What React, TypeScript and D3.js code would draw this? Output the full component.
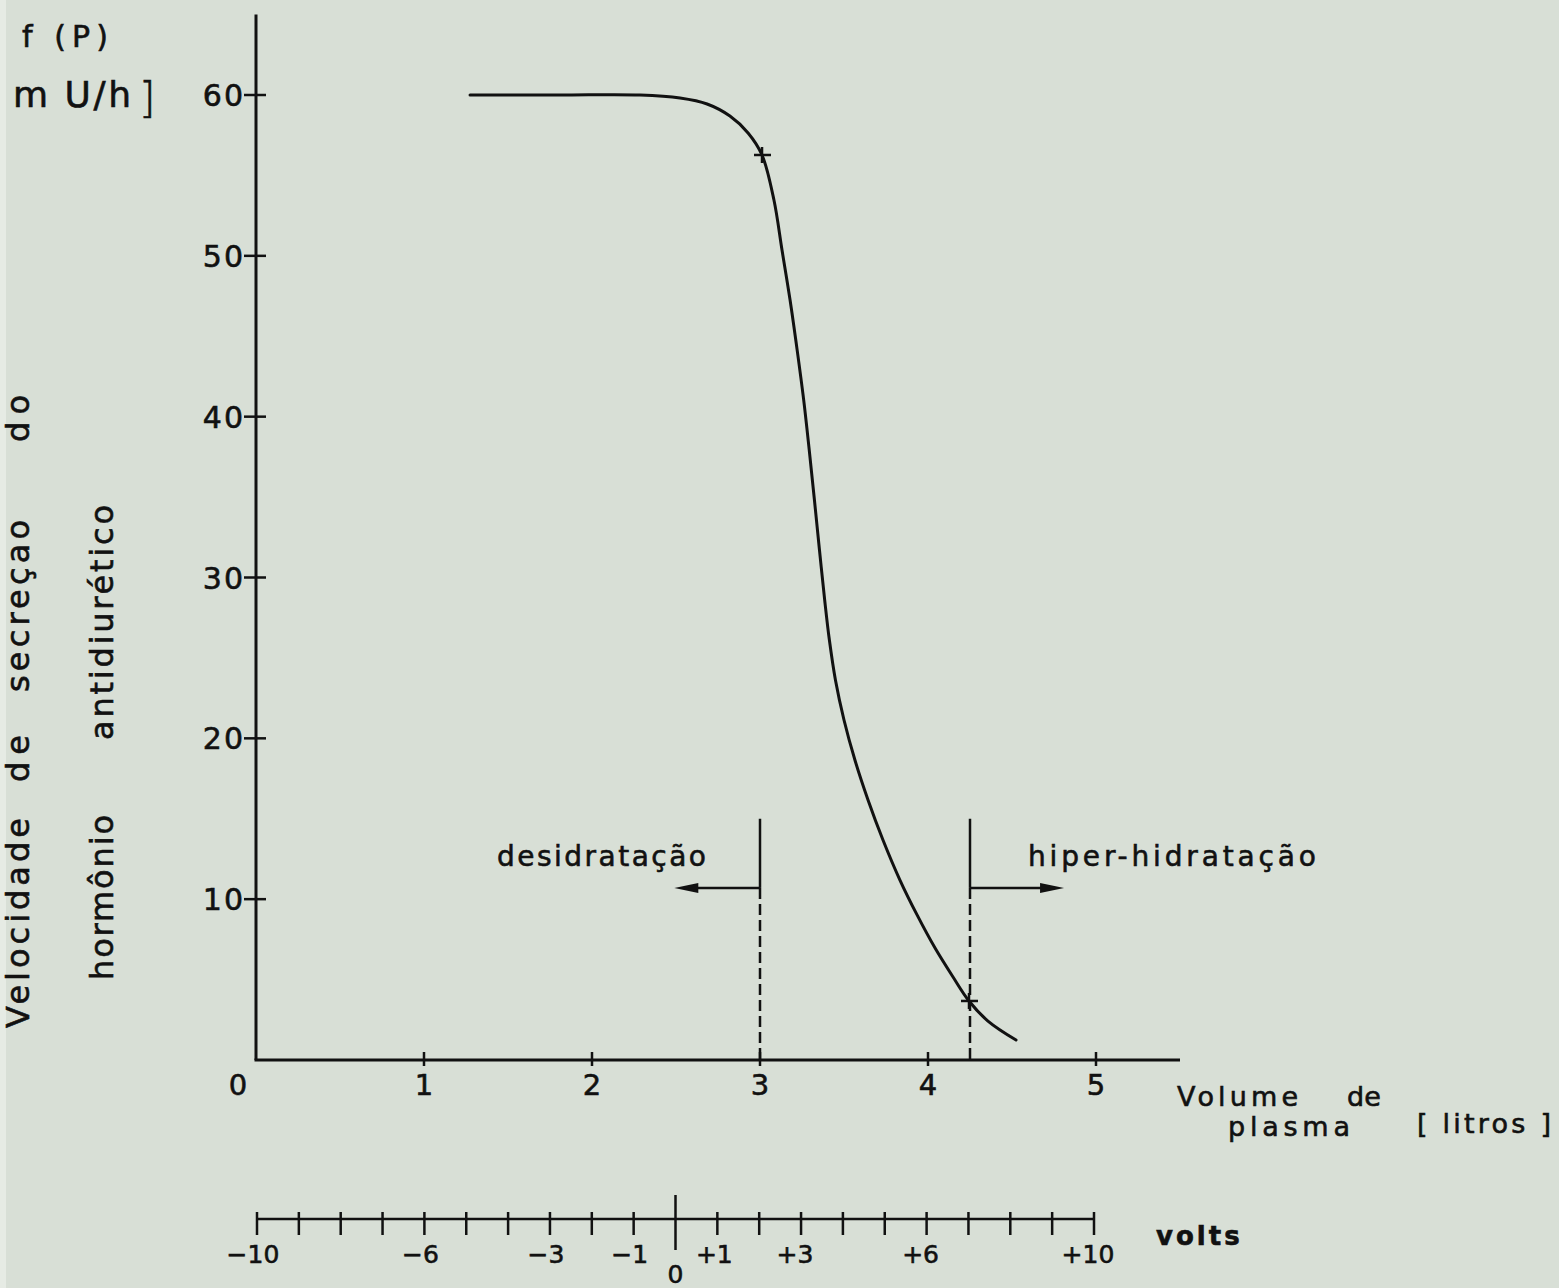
import React from "react";
import * as d3 from "d3";

// ---- data ----
const volumeTicks = [0, 1, 2, 3, 4, 5];
const secretionTicks = [10, 20, 30, 40, 50, 60];
const curveVolume = [1.274, 1.81, 2.286, 2.524, 2.685, 2.821, 2.929, 3.012, 3.083, 3.131, 3.179, 3.221, 3.26, 3.293, 3.324, 3.354, 3.385, 3.413, 3.449, 3.5, 3.565, 3.643, 3.732, 3.833, 3.935, 4.042, 4.149, 4.244, 4.357, 4.524];
const curveSecretion = [60, 60, 60, 59.81, 59.44, 58.69, 57.64, 56.27, 53.47, 50.36, 47.25, 44.15, 41.04, 37.93, 34.82, 31.71, 28.6, 26.11, 23.63, 21.14, 18.65, 16.17, 13.68, 11.19, 9.02, 6.96, 5.16, 3.67, 2.42, 1.24];
const crossVolume = [3.012, 4.244];
const crossSecretion = [56.27, 3.67];
const thresholdVolume = [3, 4.25];
const thresholdTop = 15;
const arrowLevel = 10.7;
const arrowEnd = [2.49, 4.81];
const thresholdLabels = ["desidratação", "hiper-hidratação"];
const voltTicks = [-10, -9, -8, -7, -6, -5, -4, -3, -2, -1, 0, 1, 2, 3, 4, 5, 6, 7, 8, 9, 10];
const voltLabels = [-10, -6, -3, -1, 1, 3, 6, 10];
const voltDomain = [-10, 10];
const volumeMax = 5.5;
const secretionMax = 65;

const FONT = "'DejaVu Sans', sans-serif";
const INK = "#111";
const TS = { fontFamily: FONT, fill: INK, stroke: INK, strokeWidth: 0.6 } as const;

export default function App() {
  const W = 1559, H = 1288;
  const x = d3.scaleLinear().domain([0, 5]).range([256, 1096]);
  const y = d3.scaleLinear().domain([0, 60]).range([1060, 95]);
  const v = d3.scaleLinear().domain(voltDomain).range([x(0) + 1, x(5) - 2]);
  const voltY = 1219;

  const pts: [number, number][] = curveVolume.map((c, i) => [c, curveSecretion[i]]);
  const line = d3.line<[number, number]>().x(d => x(d[0])).y(d => y(d[1])).curve(d3.curveCatmullRom.alpha(0.5));

  const fmtVolt = (n: number) => (n < 0 ? "\u2212" + Math.abs(n) : "+" + n);

  return (
    <svg width={W} height={H} style={{ position: "absolute", left: 0, top: 0, background: "#d8dfd6" }}>
      <rect x={0} y={0} width={W} height={H} fill="#d8dfd6" />
      <rect x={0} y={0} width={6} height={H} fill="#e6ebe4" />

      {/* y axis */}
      <line x1={x(0)} x2={x(0)} y1={y(0)} y2={y(secretionMax)} stroke={INK} strokeWidth={3} />
      {secretionTicks.map(t => (
        <g key={"yt" + t}>
          <line x1={x(0) - 12} x2={x(0) + 10} y1={y(t)} y2={y(t)} stroke={INK} strokeWidth={2.5} />
          <text {...TS} x={x(0) - 11} y={y(t) + 11} textAnchor="end" fontSize={30} letterSpacing={2}>{t}</text>
        </g>
      ))}

      {/* x axis */}
      <line x1={x(0) - 1.5} x2={x(volumeMax)} y1={y(0)} y2={y(0)} stroke={INK} strokeWidth={3} />
      {volumeTicks.filter(t => t > 0).map(t => (
        <line key={"xt" + t} x1={x(t)} x2={x(t)} y1={y(0) - 8} y2={y(0) + 6} stroke={INK} strokeWidth={2.5} />
      ))}
      {volumeTicks.map(t => (
        <text {...TS} key={"xl" + t} x={x(t) + (t === 0 ? -18 : 0)} y={y(0) + 35} textAnchor="middle" fontSize={29}>{t}</text>
      ))}

      {/* curve */}
      <path d={line(pts) || ""} fill="none" stroke={INK} strokeWidth={3} strokeLinecap="round" />
      {crossVolume.map((c, i) => (
        <g key={"cr" + i}>
          <line x1={x(c) - 8} x2={x(c) + 9} y1={y(crossSecretion[i])} y2={y(crossSecretion[i])} stroke={INK} strokeWidth={2.5} />
          <line x1={x(c)} x2={x(c)} y1={y(crossSecretion[i]) - 8} y2={y(crossSecretion[i]) + 8} stroke={INK} strokeWidth={2.5} />
        </g>
      ))}

      {/* thresholds */}
      {thresholdVolume.map((tv, i) => {
        const xx = x(tv);
        const xe = x(arrowEnd[i]);
        const ya = y(arrowLevel);
        const dir = xe < xx ? -1 : 1;
        const head = `M${xe},${ya} L${xe - dir * 24},${ya - 5} L${xe - dir * 24},${ya + 5} Z`;
        return (
          <g key={"th" + i}>
            <line x1={xx} x2={xx} y1={y(thresholdTop)} y2={ya} stroke={INK} strokeWidth={2.5} />
            <line x1={xx} x2={xx} y1={ya} y2={y(0)} stroke={INK} strokeWidth={2.5} strokeDasharray="11 5" />
            <line x1={xx} x2={xe - dir * 10} y1={ya} y2={ya} stroke={INK} strokeWidth={2.5} />
            <path d={head} fill={INK} />
          </g>
        );
      })}
      <text {...TS} x={497} y={866} fontSize={28} textLength={209} lengthAdjust="spacing">{thresholdLabels[0]}</text>
      <text {...TS} x={1028} y={866} fontSize={28} textLength={288} lengthAdjust="spacing">{thresholdLabels[1]}</text>

      {/* x axis title */}
      <text {...TS} x={1177} y={1106} fontSize={27} textLength={121} lengthAdjust="spacing">Volume</text>
      <text {...TS} x={1347} y={1106} fontSize={27}>de</text>
      <text {...TS} x={1228} y={1136} fontSize={27} textLength={122} lengthAdjust="spacing">plasma</text>
      <text {...TS} x={1417} y={1133} fontSize={27} textLength={134} lengthAdjust="spacing">[ litros ]</text>

      {/* volts axis */}
      <line x1={v(voltDomain[0])} x2={v(voltDomain[1])} y1={voltY} y2={voltY} stroke={INK} strokeWidth={2.5} />
      {voltTicks.map(t => (
        <line key={"vt" + t} x1={v(t)} x2={v(t)} y1={t === 0 ? voltY - 24 : voltY - 7} y2={t === 0 ? voltY + 31 : voltY + 16} stroke={INK} strokeWidth={2.5} />
      ))}
      {voltLabels.map(t => (
        <text {...TS} key={"vl" + t} x={v(t) + (t === 1 ? -3 : t < 0 ? -4 : -6)} y={voltY + 44} textAnchor="middle" fontSize={25}>{fmtVolt(t)}</text>
      ))}
      <text {...TS} x={v(0)} y={voltY + 64} textAnchor="middle" fontSize={25}>0</text>
      <text {...TS} x={1156} y={1245} fontSize={26} fontWeight="bold" letterSpacing={3}>volts</text>

      {/* top-left unit */}
      <text {...TS} x={22} y={47} fontSize={30} textLength={86} lengthAdjust="spacing">f (P)</text>
      <text {...TS} x={13} y={107} fontSize={36} textLength={118} lengthAdjust="spacing">m U/h</text>
      <text {...TS} x={139} y={113} fontSize={42} fontWeight="300">]</text>

      {/* rotated y title */}
      {[
        { w: "Velocidade", b: 1028, len: 210, bx: 29 },
        { w: "de", b: 782, len: 47, bx: 29 },
        { w: "secreçao", b: 692, len: 172, bx: 29 },
        { w: "do", b: 442, len: 47, bx: 29 },
        { w: "hormônio", b: 980, len: 165, bx: 113 },
        { w: "antidiurético", b: 740, len: 235, bx: 113 },
      ].map((o, i) => (
        <text {...TS} key={"yl" + i} transform={`translate(${o.bx},${o.b}) rotate(-90)`} fontSize={32} textLength={o.len} lengthAdjust="spacing">{o.w}</text>
      ))}
    </svg>
  );
}
